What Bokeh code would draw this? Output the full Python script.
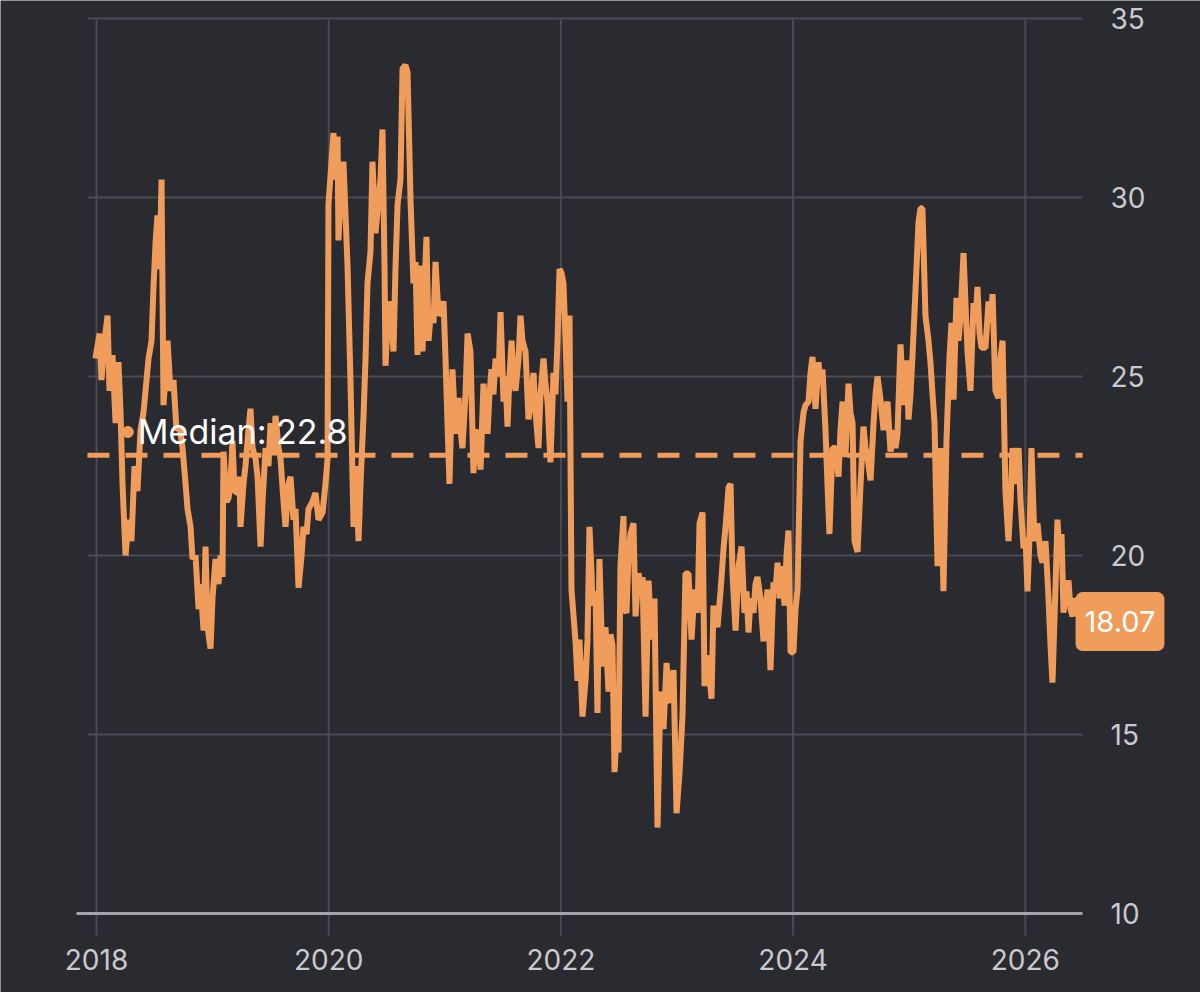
import numpy as np

from bokeh.plotting import figure
from bokeh.models import Label
from bokeh.core.properties import value
from bokeh.embed import file_html
from bokeh.resources import INLINE

# decimal years and values
years = [
    2017.991, 2018.026, 2018.043, 2018.069, 2018.095, 2018.112, 2018.138, 2018.164, 2018.189, 2018.207,
    2018.224, 2018.250, 2018.276, 2018.301, 2018.327, 2018.353, 2018.379, 2018.405, 2018.448, 2018.474,
    2018.491, 2018.508, 2018.525, 2018.543, 2018.560, 2018.577, 2018.594, 2018.612, 2018.637, 2018.663,
    2018.689, 2018.715, 2018.741, 2018.767, 2018.784, 2018.810, 2018.827, 2018.853, 2018.879, 2018.896,
    2018.922, 2018.939, 2018.956, 2018.982, 2018.999, 2019.025, 2019.051, 2019.068, 2019.085, 2019.094,
    2019.120, 2019.137, 2019.154, 2019.171, 2019.189, 2019.214, 2019.232, 2019.240, 2019.266, 2019.283,
    2019.309, 2019.326, 2019.344, 2019.370, 2019.387, 2019.413, 2019.430, 2019.456, 2019.481, 2019.499,
    2019.525, 2019.542, 2019.568, 2019.585, 2019.611, 2019.628, 2019.654, 2019.671, 2019.697, 2019.714,
    2019.740, 2019.766, 2019.783, 2019.809, 2019.826, 2019.860, 2019.886, 2019.912, 2019.947, 2019.972,
    2019.990,
    2019.998, 2020.024, 2020.041, 2020.059, 2020.076, 2020.084, 2020.102, 2020.127, 2020.145, 2020.162,
    2020.188, 2020.214, 2020.231, 2020.257, 2020.274, 2020.300, 2020.317, 2020.334, 2020.360, 2020.377,
    2020.403, 2020.420, 2020.446, 2020.463, 2020.481, 2020.489, 2020.515, 2020.541, 2020.558, 2020.575,
    2020.593, 2020.618, 2020.636, 2020.661, 2020.679, 2020.705, 2020.730, 2020.748, 2020.765, 2020.791,
    2020.808, 2020.825, 2020.842, 2020.860, 2020.877, 2020.903, 2020.920, 2020.946, 2020.963, 2020.989,
    2021.006, 2021.023, 2021.040, 2021.066, 2021.092, 2021.118, 2021.135, 2021.152, 2021.178, 2021.196,
    2021.221, 2021.247, 2021.264, 2021.282, 2021.308, 2021.333, 2021.351, 2021.368, 2021.385, 2021.402,
    2021.419, 2021.437, 2021.463, 2021.480, 2021.506, 2021.523, 2021.540, 2021.557, 2021.575, 2021.592,
    2021.609, 2021.635, 2021.652, 2021.669, 2021.695, 2021.721, 2021.747, 2021.764, 2021.781, 2021.807,
    2021.824, 2021.850, 2021.867, 2021.885, 2021.910, 2021.936, 2021.953, 2021.971, 2021.988, 2022.005,
    2022.022, 2022.040, 2022.057, 2022.074,
    2022.091, 2022.109, 2022.126, 2022.143, 2022.160, 2022.186, 2022.212, 2022.229, 2022.246, 2022.264,
    2022.272, 2022.298, 2022.315, 2022.332, 2022.358, 2022.384, 2022.410, 2022.427, 2022.444, 2022.462,
    2022.479, 2022.496, 2022.513, 2022.539, 2022.548, 2022.565, 2022.582, 2022.599, 2022.625, 2022.643,
    2022.668, 2022.686, 2022.703, 2022.729, 2022.755, 2022.780, 2022.806, 2022.832, 2022.858, 2022.884,
    2022.910, 2022.927, 2022.944, 2022.970, 2022.996, 2023.022, 2023.047, 2023.073, 2023.099, 2023.125,
    2023.151, 2023.177, 2023.194, 2023.220, 2023.237, 2023.254, 2023.271, 2023.297, 2023.314, 2023.332,
    2023.349, 2023.375, 2023.401, 2023.418, 2023.444, 2023.461, 2023.478, 2023.504, 2023.530, 2023.556,
    2023.581, 2023.599, 2023.616, 2023.633, 2023.659, 2023.676, 2023.693, 2023.719, 2023.745, 2023.762,
    2023.780, 2023.805, 2023.831, 2023.848, 2023.866, 2023.883, 2023.900, 2023.926, 2023.943, 2023.960,
    2023.978, 2024.003, 2024.021, 2024.038, 2024.064, 2024.090, 2024.107, 2024.133, 2024.150, 2024.167,
    2024.193, 2024.219, 2024.236, 2024.253, 2024.279, 2024.296, 2024.313, 2024.339, 2024.365, 2024.391,
    2024.408, 2024.426, 2024.451, 2024.477, 2024.494, 2024.512, 2024.529, 2024.555, 2024.581, 2024.606,
    2024.624, 2024.641, 2024.667, 2024.693, 2024.710, 2024.727, 2024.753, 2024.779, 2024.796, 2024.813,
    2024.839, 2024.865, 2024.882, 2024.899, 2024.925, 2024.951, 2024.977, 2024.994, 2025.011, 2025.028,
    2025.054, 2025.080, 2025.097, 2025.114, 2025.140, 2025.166, 2025.183, 2025.201, 2025.218, 2025.244,
    2025.270, 2025.295, 2025.321, 2025.347, 2025.364, 2025.382, 2025.407, 2025.425, 2025.442, 2025.468,
    2025.485, 2025.502, 2025.528, 2025.554, 2025.571, 2025.588, 2025.606, 2025.623, 2025.657, 2025.683,
    2025.700, 2025.718, 2025.743, 2025.769, 2025.786, 2025.804, 2025.829, 2025.855, 2025.873, 2025.890,
    2025.916, 2025.942, 2025.959, 2025.985, 2026.002, 2026.019, 2026.036, 2026.053, 2026.079, 2026.105,
    2026.131, 2026.148, 2026.174, 2026.200, 2026.217, 2026.234, 2026.260, 2026.277, 2026.295, 2026.312,
    2026.329, 2026.346, 2026.372, 2026.389, 2026.407, 2026.433, 2026.450, 2026.476,
]

values = [
    25.5, 26.2, 24.9, 26.0, 26.7, 24.6, 25.6, 23.7, 25.4, 24.0,
    22.0, 20.0, 21.0, 20.4, 22.5, 21.8, 23.5, 24.0, 25.5, 26.0,
    27.5, 28.7, 29.5, 28.0, 30.5, 24.2, 25.0, 26.0, 24.6, 24.9,
    23.5, 23.6, 23.0, 22.0, 21.3, 20.8, 19.9, 20.0, 18.5, 19.2,
    17.9, 20.25, 18.0, 17.4, 18.8, 19.9, 19.2, 20.0, 19.4, 22.9,
    21.5, 21.6, 22.0, 23.2, 21.8, 21.75, 22.2, 20.8, 22.0, 22.5,
    23.5, 24.1, 23.0, 22.7, 22.2, 20.25, 21.5, 23.0, 22.5, 23.7,
    22.8, 23.9, 23.0, 22.7, 21.5, 20.8, 22.0, 22.2, 21.0, 21.3,
    19.1, 20.0, 20.8, 20.6, 21.3, 21.5, 21.75, 21.0, 21.2, 22.0,
    22.7,
    29.8, 31.0, 31.8, 30.5, 31.7, 28.8, 30.0, 31.0, 29.5, 28.1,
    24.8, 20.8, 22.5, 20.4, 22.0, 23.9, 25.5, 27.6, 28.5, 31.0,
    29.0, 29.6, 30.5, 31.9, 28.0, 25.3, 27.1, 26.5, 25.7, 28.0,
    29.8, 30.5, 33.6, 33.7, 33.5, 29.9, 27.6, 28.2, 25.6, 28.1,
    25.7, 27.5, 28.9, 26.0, 26.7, 26.5, 28.2, 26.7, 26.8, 27.1,
    25.5, 23.7, 22.0, 25.2, 23.4, 24.4, 23.5, 23.0, 24.5, 26.2,
    25.7, 22.3, 23.5, 23.4, 22.4, 24.8, 24.0, 23.4, 24.5, 25.2,
    24.5, 25.5, 25.0, 26.8, 24.3, 25.0, 23.6, 25.0, 26.0, 25.0,
    24.6, 25.5, 26.7, 26.0, 25.7, 23.8, 24.5, 25.1, 24.0, 23.0,
    24.5, 25.5, 24.8, 24.3, 22.6, 25.1, 24.5, 26.0, 28.0, 27.9,
    27.6, 26.0, 24.3, 26.7,
    19.05, 18.3, 17.6, 16.5, 17.65, 15.5, 16.5, 17.65, 20.8, 19.5,
    18.6, 19.0, 15.6, 19.9, 16.9, 18.0, 16.2, 17.8, 17.5, 13.95,
    15.0, 14.5, 19.7, 21.1, 18.5, 18.4, 20.0, 20.6, 20.9, 18.3,
    19.5, 19.2, 19.4, 15.5, 19.3, 17.65, 18.8, 12.4, 16.2, 15.15,
    17.0, 16.0, 15.9, 16.8, 12.8, 13.95, 15.5, 19.5, 19.5, 17.65,
    19.05, 18.4, 20.9, 21.2, 16.35, 17.2, 17.0, 16.0, 18.6, 18.2,
    18.0, 19.0, 20.2, 20.8, 21.9, 22.0, 19.5, 17.9, 19.7, 20.25,
    18.4, 19.0, 17.85, 18.8, 18.4, 19.2, 19.4, 18.8, 17.6, 18.5,
    19.05, 16.8, 19.25, 19.0, 19.8, 18.8, 19.7, 18.6, 20.0, 20.7,
    17.3, 17.3, 18.5, 19.05, 23.2, 24.0, 24.2, 24.3, 25.1, 25.55,
    24.1, 25.4, 24.8, 25.2, 23.5, 22.0, 20.6, 23.0, 23.0, 22.2,
    23.5, 24.3, 22.75, 24.8, 24.0, 23.7, 20.4, 20.1, 22.0, 23.6,
    23.0, 22.75, 22.1, 23.7, 24.5, 25.0, 24.35, 23.5, 24.0, 24.3,
    22.9, 23.5, 23.0, 23.4, 25.9, 24.2, 25.45, 23.8, 24.5, 25.55,
    27.4, 29.3, 29.7, 29.7, 26.7, 26.0, 25.4, 24.5, 23.7, 19.7,
    23.0, 19.0, 23.2, 25.55, 26.5, 24.35, 27.2, 26.0, 26.7, 28.45,
    27.0, 25.7, 24.6, 27.05, 26.5, 27.5, 26.2, 25.8, 25.8, 27.1,
    26.5, 27.3, 24.6, 24.4, 25.5, 26.0, 21.8, 20.4, 21.5, 23.0,
    22.0, 23.0, 21.5, 20.2, 20.5, 19.0, 20.5, 23.0, 20.4, 20.9,
    20.0, 19.8, 20.4, 18.8, 17.5, 16.45, 19.1, 21.0, 20.0, 20.6,
    18.4, 19.0, 19.3, 18.5, 18.3, 18.8, 18.7, 18.07,
]

x_ticks = [2018, 2020, 2022, 2024, 2026]
y_ticks = [10, 15, 20, 25, 30, 35]
median = 22.8
median_label_year = 2018.27

# data window; the frame fills the whole canvas so nothing gets clipped,
# and the axes are drawn by hand inside it
x_start, x_end = 2017.922, 2026.493
axis_start = 2017.828
tick_bottom = 9.385
view_x = (2017.173, 2027.509)
view_y = (7.793, 35.503)

BG = "#2a2a31"
ORANGE = "#f09d5b"
GRID = "#4a4a53"
AXIS = "#a4a4ab"
TICK_TEXT = "#c9c9ce"
FONT = "Inter"

p = figure(width=1200, height=992, x_range=view_x, y_range=view_y,
           x_axis_location=None, y_axis_location=None,
           output_backend="svg", toolbar_location=None,
           min_border_left=0, min_border_top=0, min_border_right=0, min_border_bottom=0)
p.background_fill_color = BG
p.border_fill_color = BG
p.outline_line_color = None
p.grid.visible = False

# grid lines; the vertical ones run on below the axis as ticks
p.segment(x0=x_start, x1=x_end, y0=y_ticks[1:], y1=y_ticks[1:], line_color=GRID, line_width=2)
p.segment(x0=x_ticks, x1=x_ticks, y0=tick_bottom, y1=35, line_color=GRID, line_width=2)

# x axis line and labels
p.segment(x0=[axis_start], x1=[x_end], y0=[10], y1=[10], line_color=AXIS, line_width=3)
p.text(x=x_ticks, y=[10] * len(x_ticks), text=[str(t) for t in x_ticks],
       y_offset=46, text_baseline="middle", text_align="center", text_color=TICK_TEXT,
       text_font=value(FONT), text_font_size="28px")

# y tick labels on the right of the data window
p.text(x=[x_end] * len(y_ticks), y=y_ticks, text=[str(t) for t in y_ticks],
       x_offset=28, text_baseline="middle", text_align="left", text_color=TICK_TEXT,
       text_font=value(FONT), text_font_size="28px")

# median reference line
p.segment(x0=[x_start], x1=[x_end], y0=[median], y1=[median], line_color=ORANGE,
          line_width=5, line_dash="22 16")

p.line(years, values, line_color=ORANGE, line_width=6)

p.scatter([median_label_year], [median + 0.65], size=11, color=ORANGE)
p.add_layout(Label(x=median_label_year, y=median + 0.65, x_offset=10, text=f"Median: {median}",
                   text_baseline="middle", text_color="white", text_font=FONT,
                   text_font_size="34px"))

p.add_layout(Label(x=years[-1], y=values[-1], x_offset=-5, y_offset=3, text=f"{values[-1]:.2f}",
                   text_baseline="middle", text_align="left", text_color="white",
                   text_font=FONT, text_font_size="29px", background_fill_color=ORANGE,
                   padding=dict(left=9, right=9, top=19, bottom=19), border_radius=7))

open("out.html", "w").write(file_html(p, INLINE))
